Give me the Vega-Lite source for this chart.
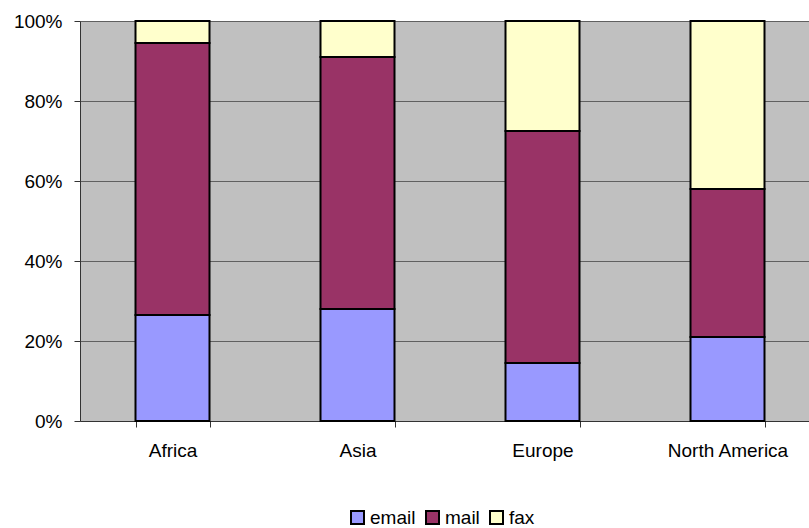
{
  "$schema": "https://vega.github.io/schema/vega-lite/v6.json",
  "autosize": {"type": "none"},
  "padding": {"left": 80, "top": 21, "right": 0, "bottom": 107},
  "width": 740,
  "height": 400,
  "background": "white",
  "config": {
    "view": {"fill": "#C0C0C0", "stroke": null},
    "font": "Liberation Sans"
  },
  "data": {
    "values": [
      {"region": "Africa", "type": "email", "ord": 1, "share": 0.265},
      {"region": "Africa", "type": "mail", "ord": 2, "share": 0.68},
      {"region": "Africa", "type": "fax", "ord": 3, "share": 0.055},
      {"region": "Asia", "type": "email", "ord": 1, "share": 0.28},
      {"region": "Asia", "type": "mail", "ord": 2, "share": 0.63},
      {"region": "Asia", "type": "fax", "ord": 3, "share": 0.09},
      {"region": "Europe", "type": "email", "ord": 1, "share": 0.145},
      {"region": "Europe", "type": "mail", "ord": 2, "share": 0.58},
      {"region": "Europe", "type": "fax", "ord": 3, "share": 0.275},
      {"region": "North America", "type": "email", "ord": 1, "share": 0.21},
      {"region": "North America", "type": "mail", "ord": 2, "share": 0.37},
      {"region": "North America", "type": "fax", "ord": 3, "share": 0.42}
    ]
  },
  "mark": {"type": "bar", "stroke": "black", "strokeWidth": 2},
  "encoding": {
    "x": {
      "field": "region",
      "type": "nominal",
      "sort": ["Africa", "Asia", "Europe", "North America"],
      "scale": {"paddingInner": 0.6, "paddingOuter": 0.3},
      "axis": {
        "title": null,
        "labelAngle": 0,
        "tickBand": "extent",
        "tickSize": 6,
        "tickColor": "#333333",
        "domainColor": "#333333",
        "labelPadding": 14,
        "labelFontSize": 19,
        "labelColor": "black",
        "labelFont": "Liberation Sans"
      }
    },
    "y": {
      "field": "share",
      "type": "quantitative",
      "stack": "zero",
      "scale": {"domain": [0, 1], "nice": false},
      "axis": {
        "title": null,
        "format": "%",
        "values": [0, 0.2, 0.4, 0.6, 0.8, 1],
        "tickSize": 6,
        "tickColor": "#333333",
        "domainColor": "#333333",
        "gridColor": "#606060",
        "gridOpacity": 1,
        "labelPadding": 12,
        "labelFontSize": 19,
        "labelColor": "black",
        "labelFont": "Liberation Sans"
      }
    },
    "color": {
      "field": "type",
      "type": "nominal",
      "sort": ["email", "mail", "fax"],
      "scale": {"domain": ["email", "mail", "fax"], "range": ["#9999FF", "#993366", "#FFFFCC"]},
      "legend": {
        "title": null,
        "orient": "none",
        "direction": "horizontal",
        "legendX": 268,
        "legendY": 487,
        "padding": 0,
        "symbolType": "square",
        "symbolSize": 169,
        "symbolStrokeColor": "black",
        "symbolStrokeWidth": 2,
        "symbolOpacity": 1,
        "labelFontSize": 19,
        "labelColor": "black",
        "labelFont": "Liberation Sans",
        "labelOffset": 3,
        "columnPadding": 6
      }
    },
    "order": {"field": "ord", "type": "quantitative"}
  }
}
